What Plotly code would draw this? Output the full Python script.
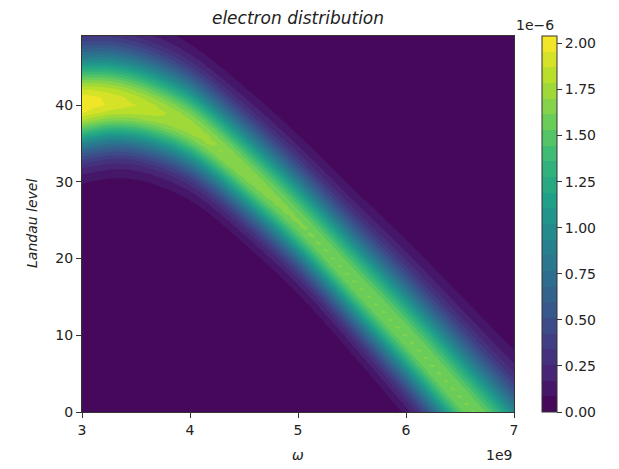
import numpy as np
import plotly.graph_objects as go

# ---- data (omega in units of 1e9, values in 1e-6) ----
omega_knots   = [3.0, 3.25, 3.5, 3.75, 4.0, 4.25, 4.5, 4.75, 5.0, 5.5, 6.0, 6.5, 7.0]
ridge_level   = [40.1, 40.35, 39.9, 38.8, 37.1, 34.5, 31.4, 28.2, 24.8, 17.3, 9.8, 1.9, -6.0]
peak_value    = [2.04, 1.95, 1.87, 1.80, 1.75, 1.71, 1.68, 1.65, 1.63, 1.62, 1.62, 1.62, 1.62]
width_upper   = [4.6, 4.55, 4.5, 4.45, 4.4, 4.42, 4.5, 4.57, 4.65, 4.9, 5.2, 5.5, 5.8]
width_lower   = [4.1, 3.95, 3.85, 3.85, 3.85, 3.85, 3.85, 3.85, 3.85, 4.0, 4.3, 4.6, 4.9]
landau_levels = list(range(0, 50))
x_ticks       = [3, 4, 5, 6, 7]
y_ticks       = [0, 10, 20, 30, 40]
cbar_ticks    = [0.0, 0.25, 0.5, 0.75, 1.0, 1.25, 1.5, 1.75, 2.0]
z_max         = 2.04
n_levels      = 24


def natural_spline(xk, yk, xq):
    xk = np.asarray(xk, float)
    yk = np.asarray(yk, float)
    m = len(xk)
    h = np.diff(xk)
    A = np.zeros((m, m))
    r = np.zeros(m)
    A[0, 0] = A[-1, -1] = 1.0
    for i in range(1, m - 1):
        A[i, i - 1] = h[i - 1]
        A[i, i] = 2 * (h[i - 1] + h[i])
        A[i, i + 1] = h[i]
        r[i] = 6 * ((yk[i + 1] - yk[i]) / h[i] - (yk[i] - yk[i - 1]) / h[i - 1])
    M = np.linalg.solve(A, r)
    idx = np.clip(np.searchsorted(xk, xq) - 1, 0, m - 2)
    x0, x1 = xk[idx], xk[idx + 1]
    hh = x1 - x0
    t0, t1 = x1 - xq, xq - x0
    return (M[idx] * t0 ** 3 / (6 * hh) + M[idx + 1] * t1 ** 3 / (6 * hh)
            + (yk[idx] / hh - M[idx] * hh / 6) * t0 + (yk[idx + 1] / hh - M[idx + 1] * hh / 6) * t1)


# ---- grid ----
om = np.linspace(3.0, 7.0, 241)
n = np.array(landau_levels, dtype=float)
c = natural_spline(omega_knots, ridge_level, om)
a = natural_spline(omega_knots, peak_value, om)
su = natural_spline(omega_knots, width_upper, om)
sl = natural_spline(omega_knots, width_lower, om)
N, _ = np.meshgrid(n, om, indexing="ij")
d = N - c[None, :]
sig = np.where(d >= 0, su[None, :], sl[None, :])
Z = a[None, :] * np.exp(-0.5 * (d / sig) ** 2) * 1e-6

fig = go.Figure(go.Contour(
    x=om * 1e9, y=n, z=Z,
    colorscale="Viridis",
    zmin=0, zmax=z_max * 1e-6,
    contours=dict(start=0, end=z_max * 1e-6, size=z_max * 1e-6 / n_levels, coloring="fill", showlines=False),
    line=dict(width=0),
    hoverinfo="skip",
    colorbar=dict(
        x=(541.5 - 82) / 432, xanchor="left", xref="paper", xpad=0, ypad=0,
        y=0, yanchor="bottom", len=1, lenmode="fraction",
        thickness=15, outlinewidth=1, outlinecolor="#333",
        tickvals=[v * 1e-6 for v in cbar_ticks],
        ticktext=[f"{v:.2f}" for v in cbar_ticks],
        ticks="outside", ticklen=5, tickcolor="#333",
        tickfont=dict(family="DejaVu Sans", size=14, color="#222"),
    ),
))

font = dict(family="DejaVu Sans", size=14, color="#222")
fig.update_layout(
    width=619, height=469,
    margin=dict(l=82, r=105, t=36, b=57, autoexpand=False),
    paper_bgcolor="white", plot_bgcolor="white",
    font=font,
    showlegend=False,
    title=dict(text="<i>electron distribution</i>", x=(82 + 432 / 2) / 619, xanchor="center",
               y=1 - 18 / 469, yanchor="middle", yref="container",
               font=dict(family="DejaVu Sans", size=17, color="#222")),
    xaxis=dict(range=[3e9, 7e9], tickvals=[t * 1e9 for t in x_ticks], ticktext=[str(t) for t in x_ticks],
               showline=True, mirror=True, linecolor="#333", linewidth=1,
               ticks="outside", ticklen=5, tickcolor="#333", showgrid=False, zeroline=False,
               tickfont=font, automargin=False),
    yaxis=dict(range=[0, 49], tickvals=y_ticks, ticktext=[str(t) for t in y_ticks],
               showline=True, mirror=True, linecolor="#333", linewidth=1,
               ticks="outside", ticklen=5, tickcolor="#333", showgrid=False, zeroline=False,
               tickfont=font, automargin=False),
    annotations=[
        dict(text="<i>ω</i>", xref="paper", yref="paper", x=0.5, y=-43 / 376, xanchor="center",
             yanchor="middle", showarrow=False, font=font),
        dict(text="<i>Landau level</i>", xref="paper", yref="paper", x=-50 / 432, y=0.5,
             xanchor="center", yanchor="middle", textangle=-90, showarrow=False, font=font),
        dict(text="1e9", xref="paper", yref="paper", x=1.0, y=-43 / 376, xanchor="right",
             yanchor="middle", showarrow=False, font=font),
        dict(text="1e\u22126", xref="paper", yref="paper", x=(556 - 82) / 432, y=1 + 11 / 376,
             xanchor="right", yanchor="middle", showarrow=False, font=font),
    ],
)

fig.write_html("out.html", config={"displayModeBar": False},
               post_script="document.body.style.margin='0';")
